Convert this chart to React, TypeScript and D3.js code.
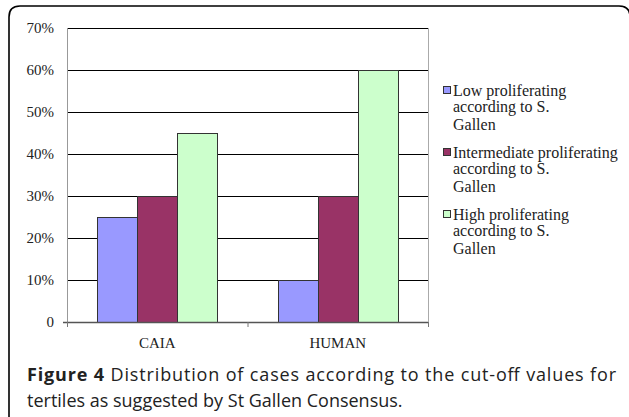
import React from 'react';
import * as d3 from 'd3';

const categories = ['CAIA', 'HUMAN'];
const seriesNames = [
  ['Low proliferating', 'according to S.', 'Gallen'],
  ['Intermediate proliferating', 'according to S.', 'Gallen'],
  ['High proliferating', 'according to S.', 'Gallen'],
];
const seriesColors = ['#9999ff', '#993366', '#ccffcc'];
// values per series, in category order
const lowValues = [0.25, 0.10];
const intermediateValues = [0.30, 0.30];
const highValues = [0.45, 0.60];
const yTicks = [0, 0.1, 0.2, 0.3, 0.4, 0.5, 0.6, 0.7];

const captionBold = 'Figure 4';
const captionLine1 = ' Distribution of cases according to the cut-off values for';
const captionLine2 = 'tertiles as suggested by St Gallen Consensus.';

const W = 629;
const H = 417;

const App: React.FC = () => {
  const series = [lowValues, intermediateValues, highValues];

  const x = d3.scaleBand<string>()
    .domain(categories)
    .range([67, 428])
    .paddingInner(1 / 3)
    .paddingOuter(1 / 6);
  const inner = d3.scaleBand<number>()
    .domain(d3.range(series.length))
    .range([0, x.bandwidth()]);
  const y = d3.scaleLinear().domain([0, 0.7]).range([322, 28]);

  const fmt = (v: number) => (v === 0 ? '0' : d3.format('.0%')(v));
  const [x0, x1] = x.range();
  const step = x.step();
  const boundaries = d3.range(categories.length + 1).map(i => x0 + i * step);

  return (
    <svg width={W} height={H} style={{ position: 'absolute', left: 0, top: 0, background: '#fff' }}>
      {/* outer frame */}
      <path d="M9,420 L9,17 Q9,6 20,6 L619,6 Q630,6 630,17 L630,420" fill="none" stroke="#000" strokeWidth={1.6} />

      {/* gridlines */}
      {yTicks.slice(1).map(t => (
        <line key={t} x1={x0} x2={x1} y1={Math.round(y(t)) + 0.5} y2={Math.round(y(t)) + 0.5} stroke="#000" strokeWidth={1} />
      ))}
      {/* plot side borders */}
      <line x1={x0 + 0.5} x2={x0 + 0.5} y1={y(0.7)} y2={y(0)} stroke="#999" />
      <line x1={x1 + 0.5} x2={x1 + 0.5} y1={y(0.7)} y2={y(0) + 4} stroke="#aaa" />

      {/* bars */}
      {series.map((vals, si) =>
        categories.map((c, ci) => {
          const bx = (x(c) ?? 0) + (inner(si) ?? 0);
          return (
            <rect
              key={`${si}-${ci}`}
              x={Math.round(bx) + 0.5}
              y={Math.round(y(vals[ci])) + 0.5}
              width={Math.round(inner.bandwidth())}
              height={Math.round(y(0) - y(vals[ci]))}
              fill={seriesColors[si]}
              stroke="#333"
              strokeWidth={1}
            />
          );
        })
      )}

      {/* x axis */}
      <line x1={x0 - 4} x2={x1} y1={y(0) + 0.5} y2={y(0) + 0.5} stroke="#555" strokeWidth={1.5} />
      {boundaries.map((b, i) => (
        <line key={i} x1={b + 0.5} x2={b + 0.5} y1={y(0)} y2={y(0) + 5} stroke="#777" strokeWidth={1} />
      ))}

      {/* y tick labels */}
      {yTicks.map(t => (
        <text key={t} x={54} y={y(t)} dy="0.35em" textAnchor="end" fontFamily="'Liberation Serif', serif" fontSize={15} fill="#222">
          {fmt(t)}
        </text>
      ))}

      {/* category labels */}
      {categories.map(c => (
        <text key={c} x={(x(c) ?? 0) + x.bandwidth() / 2} y={348} textAnchor="middle" fontFamily="'Liberation Serif', serif" fontSize={15} fill="#222">
          {c}
        </text>
      ))}

      {/* legend */}
      {seriesNames.map((lines, i) => {
        const top = 96 + i * 62;
        return (
          <g key={i}>
            <rect x={443.5} y={top - 9.5} width={7} height={7} fill={seriesColors[i]} stroke="#333" strokeWidth={1} />
            {lines.map((ln, j) => (
              <text key={j} x={453} y={top + [0, 16, 34][j]} fontFamily="'Liberation Serif', serif" fontSize={16} fill="#222">
                {ln}
              </text>
            ))}
          </g>
        );
      })}

      {/* caption */}
      <text x={27} y={381} fontFamily="'Open Sans', sans-serif" fontSize={18} fill="#222" textLength={589} lengthAdjust="spacing">
        <tspan fontWeight="bold">{captionBold}</tspan>
        <tspan>{captionLine1}</tspan>
      </text>
      <text x={27} y={407} fontFamily="'Open Sans', sans-serif" fontSize={18} fill="#222">
        {captionLine2}
      </text>
    </svg>
  );
};

export default App;
